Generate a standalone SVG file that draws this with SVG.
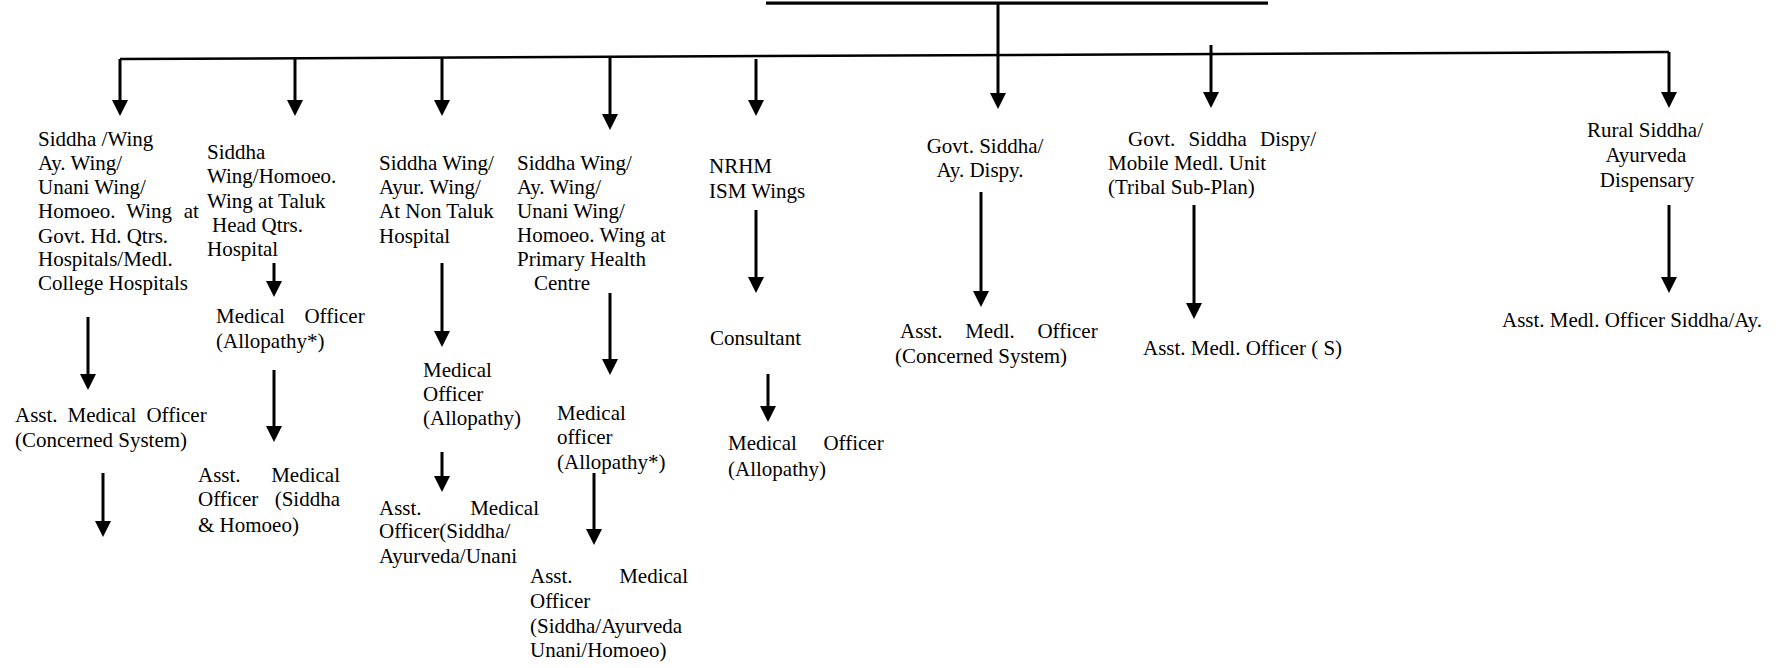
<svg xmlns="http://www.w3.org/2000/svg" width="1786" height="668" viewBox="0 0 1786 668">
<style>
text{font-family:"Liberation Serif","Times New Roman",serif;font-size:21px;fill:#000}
.c{text-anchor:middle}
.ln{stroke:#000;stroke-width:3;fill:none}
.bus{stroke:#000;stroke-width:2.5;fill:none}
</style>
<defs>
<marker id="ah" viewBox="0 0 16 16" markerWidth="16" markerHeight="16" refX="6" refY="8" orient="auto" markerUnits="userSpaceOnUse">
<path d="M0,0 L16,8 L0,16 z" fill="#000"/>
</marker>
</defs>
<rect width="1786" height="668" fill="#fff"/>
<g id="connectors">
<rect x="766" y="1.5" width="502" height="3.2" fill="#000"/>
<path class="bus" d="M120,59 L1669,52"/>
<path class="ln" d="M120,59 V106" marker-end="url(#ah)"/>
<path class="ln" d="M295,59 V106" marker-end="url(#ah)"/>
<path class="ln" d="M442,58 V106" marker-end="url(#ah)"/>
<path class="ln" d="M610,58 V120" marker-end="url(#ah)"/>
<path class="ln" d="M756,59 V106" marker-end="url(#ah)"/>
<path class="ln" d="M998,4 V99" marker-end="url(#ah)"/>
<path class="ln" d="M1211,45 V98" marker-end="url(#ah)"/>
<path class="ln" d="M1669,52 V98" marker-end="url(#ah)"/>
<path class="ln" d="M88,317 V380" marker-end="url(#ah)"/>
<path class="ln" d="M274,263 V287" marker-end="url(#ah)"/>
<path class="ln" d="M274,370 V432" marker-end="url(#ah)"/>
<path class="ln" d="M442,263 V337" marker-end="url(#ah)"/>
<path class="ln" d="M610,293 V365" marker-end="url(#ah)"/>
<path class="ln" d="M756,210 V283" marker-end="url(#ah)"/>
<path class="ln" d="M768,374 V412" marker-end="url(#ah)"/>
<path class="ln" d="M981,192 V297" marker-end="url(#ah)"/>
<path class="ln" d="M1194,205 V309" marker-end="url(#ah)"/>
<path class="ln" d="M1669,205 V283" marker-end="url(#ah)"/>
<path class="ln" d="M103,473 V527" marker-end="url(#ah)"/>
<path class="ln" d="M442,452 V482" marker-end="url(#ah)"/>
<path class="ln" d="M594,473 V535" marker-end="url(#ah)"/>
</g>
<g id="n1">
<text x="38" y="146">Siddha /Wing</text>
<text x="38" y="170">Ay. Wing/</text>
<text x="38" y="194">Unani Wing/</text>
<text y="218"><tspan x="38">Homoeo.</tspan> <tspan x="126.3">Wing</tspan> <tspan x="183.8">at</tspan></text>
<text x="38" y="243">Govt. Hd. Qtrs.</text>
<text x="38" y="266">Hospitals/Medl.</text>
<text x="38" y="290">College Hospitals</text>
</g>
<g id="n1a">
<text y="422"><tspan x="15">Asst.</tspan> <tspan x="67.6">Medical</tspan> <tspan x="146.4">Officer</tspan></text>
<text x="15" y="447">(Concerned System)</text>
</g>
<g id="n2">
<text x="207" y="159">Siddha</text>
<text x="207" y="183">Wing/Homoeo.</text>
<text x="207" y="208">Wing at Taluk</text>
<text x="212" y="232">Head Qtrs.</text>
<text x="207" y="256">Hospital</text>
</g>
<g id="n2a">
<text y="323"><tspan x="216">Medical</tspan> <tspan x="304.4">Officer</tspan></text>
<text x="216" y="348">(Allopathy*)</text>
</g>
<g id="n2b">
<text y="482"><tspan x="198">Asst.</tspan> <tspan x="271.2">Medical</tspan></text>
<text y="506"><tspan x="198">Officer</tspan> <tspan x="274.7">(Siddha</tspan></text>
<text x="198" y="532">&amp; Homoeo)</text>
</g>
<g id="n3">
<text x="379" y="170">Siddha Wing/</text>
<text x="379" y="194">Ayur. Wing/</text>
<text x="379" y="218">At Non Taluk</text>
<text x="379" y="243">Hospital</text>
</g>
<g id="n3a">
<text x="423" y="377">Medical</text>
<text x="423" y="401">Officer</text>
<text x="423" y="425">(Allopathy)</text>
</g>
<g id="n3b">
<text y="515"><tspan x="379">Asst.</tspan> <tspan x="470.2">Medical</tspan></text>
<text x="379" y="538">Officer(Siddha/</text>
<text x="379" y="563">Ayurveda/Unani</text>
</g>
<g id="n4">
<text x="517" y="170">Siddha Wing/</text>
<text x="517" y="194">Ay. Wing/</text>
<text x="517" y="218">Unani Wing/</text>
<text x="517" y="242">Homoeo. Wing at</text>
<text x="517" y="266">Primary Health</text>
<text x="534" y="290">Centre</text>
</g>
<g id="n4a">
<text x="557" y="420">Medical</text>
<text x="557" y="444">officer</text>
<text x="557" y="469">(Allopathy*)</text>
</g>
<g id="n4b">
<text y="583"><tspan x="530">Asst.</tspan> <tspan x="619.2">Medical</tspan></text>
<text x="530" y="608">Officer</text>
<text x="530" y="633">(Siddha/Ayurveda</text>
<text x="530" y="657">Unani/Homoeo)</text>
</g>
<g id="n5">
<text x="709" y="173">NRHM</text>
<text x="709" y="198">ISM Wings</text>
</g>
<g id="n5a">
<text x="710" y="345">Consultant</text>
</g>
<g id="n5b">
<text y="450"><tspan x="728">Medical</tspan> <tspan x="823.4">Officer</tspan></text>
<text x="728" y="476">(Allopathy)</text>
</g>
<g id="n6">
<text class="c" x="985" y="153">Govt. Siddha/</text>
<text class="c" x="980" y="177">Ay. Dispy.</text>
</g>
<g id="n6a">
<text y="338"><tspan x="900">Asst.</tspan> <tspan x="965.2">Medl.</tspan> <tspan x="1037.4">Officer</tspan></text>
<text x="895" y="363">(Concerned System)</text>
</g>
<g id="n7">
<text y="146"><tspan x="1128">Govt.</tspan> <tspan x="1188.5">Siddha</tspan> <tspan x="1260">Dispy/</tspan></text>
<text x="1108" y="170">Mobile Medl. Unit</text>
<text x="1108" y="194">(Tribal Sub-Plan)</text>
</g>
<g id="n7a">
<text x="1143" y="355">Asst. Medl. Officer ( S)</text>
</g>
<g id="n8">
<text class="c" x="1645" y="137">Rural Siddha/</text>
<text class="c" x="1646" y="162">Ayurveda</text>
<text class="c" x="1647" y="187">Dispensary</text>
</g>
<g id="n8a">
<text x="1502" y="327">Asst. Medl. Officer Siddha/Ay.</text>
</g>
</svg>
